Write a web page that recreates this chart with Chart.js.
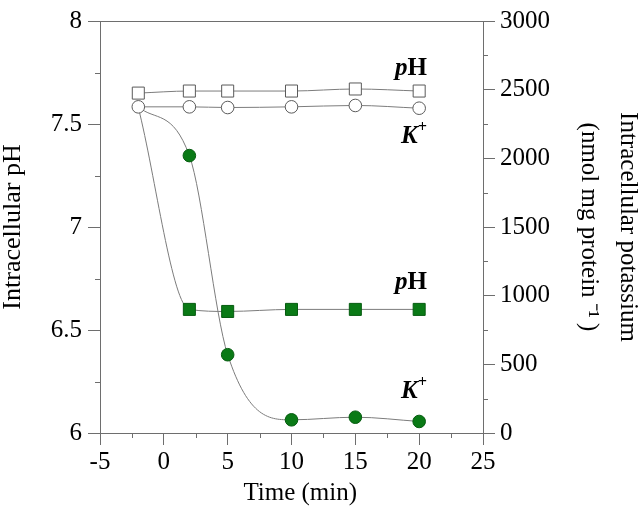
<!DOCTYPE html>
<html>
<head>
<meta charset="utf-8">
<script src="https://cdn.jsdelivr.net/npm/chart.js@4.4.1/dist/chart.umd.min.js"></script>
<style>
  html, body { margin: 0; padding: 0; background: #fff; }
  #wrap { width: 641px; height: 508px; }
</style>
</head>
<body>
<div id="wrap"><canvas id="chart"></canvas></div>
<script>
// sampling times (min)
const times = [-2, 2, 5, 10, 15, 20];
// open symbols (control)
const phControl = [7.65, 7.66, 7.66, 7.66, 7.67, 7.66];
const kControl = [2375, 2375, 2370, 2375, 2385, 2365];
// filled symbols (treated) - first point sits under the open circle
const phTreated = [7.58, 6.60, 6.59, 6.60, 6.60, 6.60];
const kTreated = [2375, 2020, 570, 96, 115, 84];

// tick labels
const xMajor = [-5, 0, 5, 10, 15, 20, 25];
const xMinor = [-2.5, 2.5, 7.5, 12.5, 17.5, 22.5];
const phMajor = [6, 6.5, 7, 7.5, 8];
const phMinor = [6.25, 6.75, 7.25, 7.75];
const kMajor = [0, 500, 1000, 1500, 2000, 2500, 3000];
const kMinor = [250, 750, 1250, 1750, 2250, 2750];

const serif = "'Liberation Serif', 'Times New Roman', serif";
const axisColor = "#6e6e6e";
const lineColor = "#7c7c7c";
const green = "#0a7a16";
const greenEdge = "#065c10";

const pts = (ys) => times.map((t, i) => ({ x: t, y: ys[i] }));

// curve labels: [text parts, x value of right edge, pH value of baseline]
const curveLabels = [
  [[["p", "italic bold"], ["H", "bold"]], 20.6, 7.74],
  [[["K", "italic bold"], ["+", "italic bold", true]], 20.6, 7.41],
  [[["p", "italic bold"], ["H", "bold"]], 20.6, 6.70],
  [[["K", "italic bold"], ["+", "italic bold", true]], 20.6, 6.17],
];

const decor = {
  id: "decor",
  afterDraw(chart) {
    const { ctx, chartArea: a, scales } = chart;
    ctx.save();
    ctx.strokeStyle = axisColor;
    ctx.lineWidth = 1;
    ctx.beginPath();
    ctx.moveTo(a.left, a.top + 0.5);
    ctx.lineTo(a.right, a.top + 0.5);
    xMinor.forEach(v => {
      const p = Math.round(scales.x.getPixelForValue(v)) + 0.5;
      ctx.moveTo(p, a.bottom);
      ctx.lineTo(p, a.bottom + 5);
    });
    phMinor.forEach(v => {
      const p = Math.round(scales.y.getPixelForValue(v)) + 0.5;
      ctx.moveTo(a.left, p);
      ctx.lineTo(a.left - 5, p);
    });
    kMinor.forEach(v => {
      const p = Math.round(scales.k.getPixelForValue(v)) + 0.5;
      ctx.moveTo(a.right, p);
      ctx.lineTo(a.right + 5, p);
    });
    ctx.stroke();

    ctx.fillStyle = "#000";
    ctx.textBaseline = "alphabetic";
    ctx.textAlign = "left";
    curveLabels.forEach(([parts, xv, yv]) => {
      const fontOf = p => `${p[1]} ${p[2] ? 16 : 25}px ${serif}`;
      let w = 0;
      parts.forEach(p => { ctx.font = fontOf(p); w += ctx.measureText(p[0]).width; });
      let x = scales.x.getPixelForValue(xv) - w;
      const y = scales.y.getPixelForValue(yv);
      parts.forEach(p => {
        ctx.font = fontOf(p);
        ctx.fillText(p[0], x, p[2] ? y - 11 : y);
        x += ctx.measureText(p[0]).width;
      });
    });
    ctx.restore();
  }
};

const tickFont = { family: serif, size: 25 };

new Chart(document.getElementById("chart"), {
  type: "line",
  data: {
    datasets: [
      {
        data: pts(phControl),
        yAxisID: "y",
        borderColor: lineColor,
        borderWidth: 1,
        pointStyle: "rect",
        pointRadius: 8.5,
        pointBackgroundColor: "#fff",
        pointBorderColor: "#5a5a5a",
        pointBorderWidth: 1,
        cubicInterpolationMode: "monotone",
        tension: 0.4
      },
      {
        data: pts(kControl),
        yAxisID: "k",
        borderColor: lineColor,
        borderWidth: 1,
        pointStyle: "circle",
        pointRadius: 6.3,
        pointBackgroundColor: "#fff",
        pointBorderColor: "#5a5a5a",
        pointBorderWidth: 1,
        cubicInterpolationMode: "monotone",
        tension: 0.4
      },
      {
        data: pts(phTreated),
        yAxisID: "y",
        borderColor: lineColor,
        borderWidth: 1,
        pointStyle: "rect",
        pointRadius: [0, 8.5, 8.5, 8.5, 8.5, 8.5],
        pointBackgroundColor: green,
        pointBorderColor: greenEdge,
        pointBorderWidth: 1,
        cubicInterpolationMode: "monotone",
        tension: 0.4
      },
      {
        data: pts(kTreated),
        yAxisID: "k",
        borderColor: lineColor,
        borderWidth: 1,
        pointStyle: "circle",
        pointRadius: [0, 6.3, 6.3, 6.3, 6.3, 6.3],
        pointBackgroundColor: green,
        pointBorderColor: greenEdge,
        pointBorderWidth: 1,
        cubicInterpolationMode: "monotone",
        tension: 0.4
      }
    ]
  },
  options: {
    responsive: true,
    maintainAspectRatio: false,
    animation: false,
    events: [],
    layout: { padding: { top: 16, left: 0, right: 0, bottom: 0 } },
    plugins: {
      legend: { display: false },
      tooltip: { enabled: false }
    },
    scales: {
      x: {
        type: "linear",
        min: -5,
        max: 25,
        afterBuildTicks: s => { s.ticks = xMajor.map(v => ({ value: v })); },
        afterFit: s => { s.height = 75; },
        ticks: { font: tickFont, color: "#000", padding: 2, maxRotation: 0, autoSkip: false, callback: v => String(v) },
        grid: { drawOnChartArea: false, tickLength: 12, color: axisColor, tickColor: axisColor },
        border: { color: axisColor, width: 1 },
        title: { display: true, text: "\u2002\u2009Time (min)", color: "#000", font: { family: serif, size: 25, lineHeight: 1.2 }, padding: 0 }
      },
      y: {
        type: "linear",
        position: "left",
        min: 6,
        max: 8,
        afterBuildTicks: s => { s.ticks = phMajor.map(v => ({ value: v })); },
        afterFit: s => { s.width = 100; },
        ticks: { font: tickFont, color: "#000", padding: 6, callback: v => String(v) },
        grid: { drawOnChartArea: false, tickLength: 12, color: axisColor, tickColor: axisColor },
        border: { color: axisColor, width: 1 },
        title: { display: true, text: "Intracellular pH", color: "#000", font: { family: serif, size: 26, lineHeight: 1 }, padding: 0 }
      },
      k: {
        type: "linear",
        position: "right",
        min: 0,
        max: 3000,
        afterBuildTicks: s => { s.ticks = kMajor.map(v => ({ value: v })); },
        afterFit: s => { s.width = 158; },
        ticks: { font: tickFont, color: "#000", padding: 5, callback: v => String(v) },
        grid: { drawOnChartArea: false, tickLength: 12, color: axisColor, tickColor: axisColor },
        border: { color: axisColor, width: 1 },
        title: {
          display: true,
          text: ["Intracellular potassium", "(nmol mg protein\u2009\u207B\u00B9\u2009)"],
          color: "#000",
          font: { family: serif, size: 25, lineHeight: 1.55 },
          padding: { top: -6, bottom: 0 }
        }
      }
    }
  },
  plugins: [decor]
});
</script>
</body>
</html>
